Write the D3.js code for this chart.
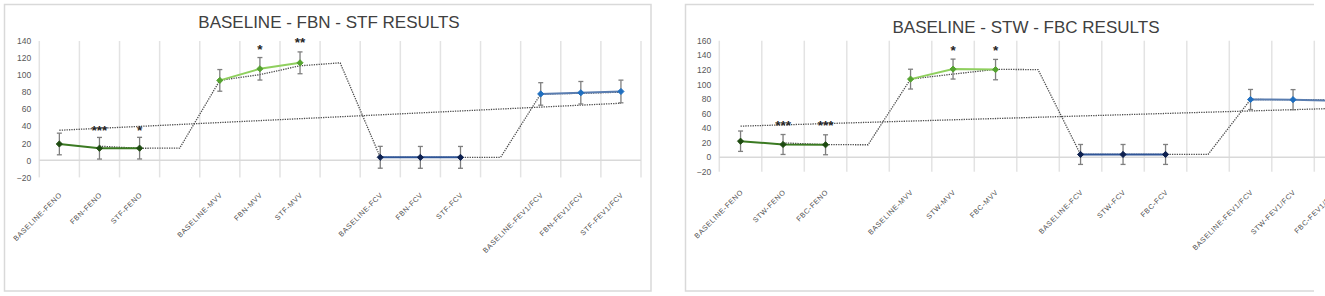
<!DOCTYPE html>
<html>
<head>
<meta charset="utf-8">
<script src="https://cdn.jsdelivr.net/npm/d3@7/dist/d3.min.js"></script>
<style>
    body { margin: 0; background: #fff; }
    svg { display: block; font-family: "Liberation Sans", Arial, sans-serif; }
</style>
</head>
<body>
<script>
const WIDTH = 1325;
const HEIGHT = 296;

// ---------- panel 1: BASELINE - FBN - STF ----------
const titulo1 = "BASELINE - FBN - STF RESULTS";
const categorias1 = ["BASELINE-FENO", "FBN-FENO", "STF-FENO", "",
    "BASELINE-MVV", "FBN-MVV", "STF-MVV", "",
    "BASELINE-FCV", "FBN-FCV", "STF-FCV", "",
    "BASELINE-FEV1/FCV", "FBN-FEV1/FCV", "STF-FEV1/FCV"];
const ticks1 = [-20, 0, 20, 40, 60, 80, 100, 120, 140];
const feno1 = [19.2, 14.2, 14.3];
const fenoErr1 = [12.7, 12.7, 12.7];
const mvv1 = [93.8, 107.4, 114.4];
const mvvErr1 = [12.7, 13.2, 12.8];
const fcv1 = [3.6, 3.5, 3.5];
const fcvErr1 = [12.8, 12.8, 12.8];
const fev1 = [77.9, 79.3, 80.8];
const fevErr1 = [13.2, 13.2, 13.3];
// media movil (indices 1..14) y tendencia lineal (extremos)
const mediaMovil1 = [16.6, 14.2, 14.3, 93.8, 100.6, 110.9, 114.4, 3.6, 3.5, 3.5, 3.5, 77.9, 78.6, 80.0];
const tendencia1 = [35.3, 67.0];
const estrellas1 = [
    { cat: 1, texto: "***", valor: 38.5 },
    { cat: 2, texto: "*", valor: 38.5 },
    { cat: 5, texto: "*", valor: 133.5 },
    { cat: 6, texto: "**", valor: 141.5 },
];

// ---------- panel 2: BASELINE - STW - FBC ----------
const titulo2 = "BASELINE - STW - FBC RESULTS";
const categorias2 = ["BASELINE-FENO", "STW-FENO", "FBC-FENO", "",
    "BASELINE-MVV", "STW-MVV", "FBC-MVV", "",
    "BASELINE-FCV", "STW-FCV", "FBC-FCV", "",
    "BASELINE-FEV1/FCV", "STW-FEV1/FCV", "FBC-FEV1/FCV"];
const ticks2 = [-20, 0, 20, 40, 60, 80, 100, 120, 140, 160];
const feno2 = [21.9, 17.4, 17.0];
const fenoErr2 = [14.0, 13.7, 13.7];
const mvv2 = [107.2, 121.0, 120.3];
const mvvErr2 = [13.6, 13.7, 14.0];
const fcv2 = [3.7, 3.7, 3.7];
const fcvErr2 = [13.7, 13.7, 13.7];
const fev2 = [79.2, 79.0, 77.6];
const fevErr2 = [13.8, 13.8, 13.8];
const mediaMovil2 = [19.6, 17.2, 17.0, 107.2, 114.1, 120.6, 120.3, 3.7, 3.7, 3.7, 3.7, 79.2, 79.1, 78.3];
const tendencia2 = [42.6, 67.0];
const estrellas2 = [
    { cat: 1, texto: "***", valor: 46.5 },
    { cat: 2, texto: "***", valor: 46.5 },
    { cat: 5, texto: "*", valor: 150.5 },
    { cat: 6, texto: "*", valor: 150.5 },
];

const COLORES = {
    feno: { linea: "#3b7a22", marca: "#1d4a10" },
    mvv: { linea: "#8fcf5e", marca: "#55a330" },
    fcv: { linea: "#2f5597", marca: "#0e2150" },
    fev: { linea: "#5a7db0", marca: "#1f6fc0" },
};

const svg = d3.select("body")
    .append("svg")
    .attr("width", WIDTH)
    .attr("height", HEIGHT);

function dibujarPanel(cfg) {
    const g = svg.append("g");

    // marco
    g.append("path")
        .attr("d", cfg.marco)
        .attr("fill", "none")
        .attr("stroke", "#d9d9d9")
        .attr("stroke-width", 1.5);

    g.append("text")
        .attr("x", cfg.tituloX)
        .attr("y", cfg.tituloY)
        .attr("text-anchor", "middle")
        .attr("font-size", 17)
        .attr("fill", "#404040")
        .text(cfg.titulo);

    const n = cfg.categorias.length;
    const x = d3.scaleBand()
        .domain(d3.range(n))
        .range([cfg.izq, cfg.der])
        .padding(0);
    const y = d3.scaleLinear()
        .domain([cfg.ticks[0], cfg.ticks[cfg.ticks.length - 1]])
        .range([cfg.abajo, cfg.arriba]);
    const cx = (i) => x(i) + x.bandwidth() / 2;

    // lineas verticales de la grilla (bordes de categoria)
    g.selectAll("line.grid")
        .data(d3.range(n + 1))
        .join("line")
        .attr("class", "grid")
        .attr("x1", (i) => cfg.izq + i * x.step())
        .attr("x2", (i) => cfg.izq + i * x.step())
        .attr("y1", y.range()[1])
        .attr("y2", y.range()[0])
        .attr("stroke", "#e3e3e3")
        .attr("stroke-width", 1.5);

    // linea del cero
    g.append("line")
        .attr("x1", cfg.izq)
        .attr("x2", cfg.der)
        .attr("y1", y(0))
        .attr("y2", y(0))
        .attr("stroke", "#d9d9d9")
        .attr("stroke-width", 1.5);

    // eje y
    const ejeY = g.append("g")
        .attr("transform", `translate(${cfg.izq},0)`)
        .call(d3.axisLeft(y).tickValues(cfg.ticks).tickSize(0).tickPadding(8));
    ejeY.select(".domain").remove();
    ejeY.selectAll("text")
        .attr("font-family", "Liberation Sans, Arial, sans-serif")
        .attr("font-size", 8.5)
        .attr("fill", "#595959");

    // eje x con etiquetas giradas
    const ejeX = g.append("g")
        .attr("transform", `translate(0,${cfg.abajo})`)
        .call(d3.axisBottom(x).tickFormat((i) => cfg.categorias[i]).tickSize(0));
    ejeX.select(".domain").remove();
    ejeX.selectAll("text")
        .attr("x", 0)
        .attr("y", 0)
        .attr("dy", 0)
        .attr("text-anchor", "end")
        .attr("transform", `translate(3,${cfg.etiquetaDy}) rotate(-45)`)
        .attr("font-family", "Liberation Sans, Arial, sans-serif")
        .attr("font-size", 7.2)
        .attr("letter-spacing", 0.6)
        .attr("fill", "#4d4d4d");

    // lineas de tendencia punteadas
    const linea = d3.line()
        .x((d) => cx(d.i))
        .y((d) => y(d.v));

    g.append("path")
        .datum([{ i: 0, v: cfg.tendencia[0] }, { i: n - 1, v: cfg.tendencia[1] }])
        .attr("d", linea)
        .attr("fill", "none")
        .attr("stroke", "#4d4d4d")
        .attr("stroke-width", 1.3)
        .attr("stroke-dasharray", "1.3,1.1");

    g.append("path")
        .datum(cfg.mediaMovil.map((v, k) => ({ i: k + 1, v: v })))
        .attr("d", linea)
        .attr("fill", "none")
        .attr("stroke", "#4d4d4d")
        .attr("stroke-width", 1.3)
        .attr("stroke-dasharray", "1.3,1.1");

    // series
    cfg.series.forEach((s) => {
        const puntos = s.valores.map((v, k) => ({ i: s.inicio + k, v: v, e: s.errores[k] }));

        g.append("path")
            .datum(puntos)
            .attr("d", linea)
            .attr("fill", "none")
            .attr("stroke", s.color.linea)
            .attr("stroke-width", 2);

        const barras = g.append("g")
            .selectAll("g")
            .data(puntos)
            .join("g")
            .attr("stroke", "#7f7f7f")
            .attr("stroke-width", 1.3);
        barras.append("line")
            .attr("x1", (d) => cx(d.i))
            .attr("x2", (d) => cx(d.i))
            .attr("y1", (d) => y(d.v + d.e))
            .attr("y2", (d) => y(d.v - d.e));
        barras.append("line")
            .attr("x1", (d) => cx(d.i) - 2.5)
            .attr("x2", (d) => cx(d.i) + 2.5)
            .attr("y1", (d) => y(d.v + d.e))
            .attr("y2", (d) => y(d.v + d.e));
        barras.append("line")
            .attr("x1", (d) => cx(d.i) - 2.5)
            .attr("x2", (d) => cx(d.i) + 2.5)
            .attr("y1", (d) => y(d.v - d.e))
            .attr("y2", (d) => y(d.v - d.e));

        // marcas: rombo (cuadrado girado)
        g.append("g")
            .selectAll("path")
            .data(puntos)
            .join("path")
            .attr("d", d3.symbol(d3.symbolSquare, 19))
            .attr("transform", (d) => `translate(${cx(d.i)},${y(d.v)}) rotate(45)`)
            .attr("fill", s.color.marca)
            .attr("stroke", s.color.marca)
            .attr("stroke-width", 0.9);
    });

    // asteriscos de significancia
    g.selectAll("text.estrella")
        .data(cfg.estrellas)
        .join("text")
        .attr("class", "estrella")
        .attr("x", (d) => cx(d.cat))
        .attr("y", (d) => y(d.valor) + 7)
        .attr("text-anchor", "middle")
        .attr("font-size", 13.5)
        .attr("font-weight", "bold")
        .attr("fill", "#262626")
        .text((d) => d.texto);
}

dibujarPanel({
    marco: "M4.5,4.5 H651 V291 H4.5 Z",
    titulo: titulo1,
    tituloX: 329,
    tituloY: 28.3,
    categorias: categorias1,
    ticks: ticks1,
    izq: 39.3,
    der: 641,
    arriba: 41,
    abajo: 177.4,
    etiquetaDy: 18,
    tendencia: tendencia1,
    mediaMovil: mediaMovil1,
    estrellas: estrellas1,
    series: [
        { inicio: 0, valores: feno1, errores: fenoErr1, color: COLORES.feno },
        { inicio: 4, valores: mvv1, errores: mvvErr1, color: COLORES.mvv },
        { inicio: 8, valores: fcv1, errores: fcvErr1, color: COLORES.fcv },
        { inicio: 12, valores: fev1, errores: fevErr1, color: COLORES.fev },
    ],
});

dibujarPanel({
    marco: "M1314,4.5 H685.5 V291 H1314",
    titulo: titulo2,
    tituloX: 1026,
    tituloY: 33.3,
    categorias: categorias2,
    ticks: ticks2,
    izq: 719.3,
    der: 1356.8,
    arriba: 40.7,
    abajo: 171.7,
    etiquetaDy: 21,
    tendencia: tendencia2,
    mediaMovil: mediaMovil2,
    estrellas: estrellas2,
    series: [
        { inicio: 0, valores: feno2, errores: fenoErr2, color: COLORES.feno },
        { inicio: 4, valores: mvv2, errores: mvvErr2, color: COLORES.mvv },
        { inicio: 8, valores: fcv2, errores: fcvErr2, color: COLORES.fcv },
        { inicio: 12, valores: fev2, errores: fevErr2, color: COLORES.fev },
    ],
});
</script>
</body>
</html>
